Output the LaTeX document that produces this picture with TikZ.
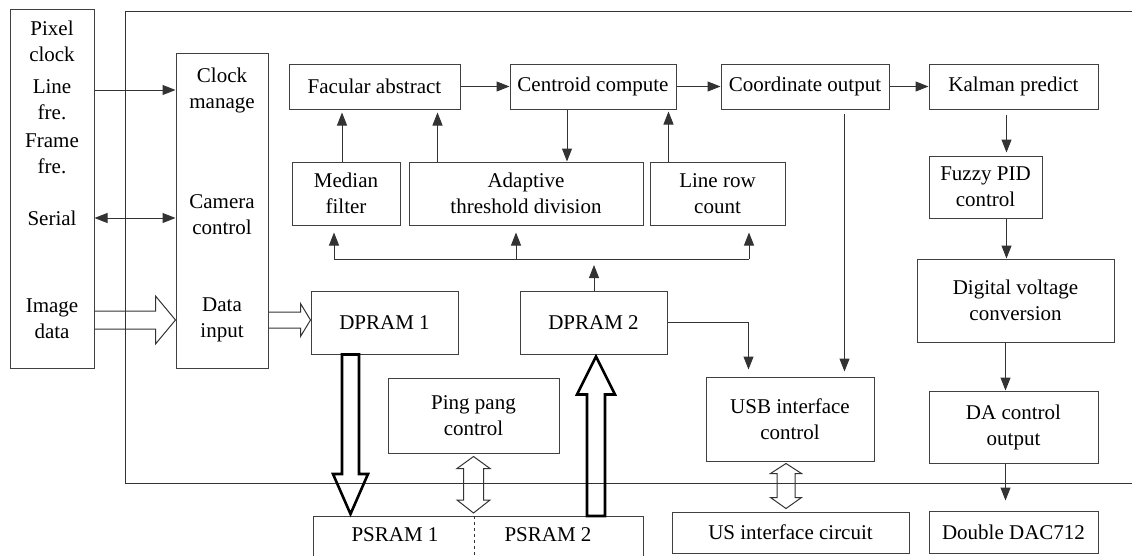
\documentclass[tikz,border=0pt]{standalone}
\usepackage{fontspec}
\setmainfont{Liberation Serif}
\usetikzlibrary{arrows.meta,calc}
\begin{document}
\begin{tikzpicture}[x=1pt,y=-1pt,
  ln/.style={draw=black!80, line width=1pt},
  box/.style={draw=black!75, line width=1pt, inner sep=0pt, align=center, font=\fontsize{21}{26}\selectfont},
  txt/.style={inner sep=0pt, align=center, font=\fontsize{21}{26}\selectfont},
  arr/.style={ln, -{Triangle[length=13pt,width=10pt]}},
  darr/.style={ln, {Triangle[length=13pt,width=10pt]}-{Triangle[length=13pt,width=10pt]}},
  hollow/.style={ln, line join=miter},
  thick arrow/.style={draw=black, line width=2.6pt, line join=miter},
]
\useasboundingbox (0,0) rectangle (1132,555);

% frame
\draw[ln] (1132,11) -- (125,11) -- (125,483) -- (1132,483);

% left source box
\node[box, minimum width=84pt, minimum height=359pt] (src) at (52,188.5) {};
\node[txt] (pc) at (52,41) {Pixel\\clock};
\node[txt] (lf) at (52,100) {Line\\fre.};
\node[txt] (ff) at (52,153.5) {Frame\\fre.};
\node[txt] (ser) at (52,218) {Serial};
\node[txt] (img) at (52,318.5) {Image\\data};

% clock / camera / data input box
\node[box, minimum width=92pt, minimum height=315pt] (ck) at (222,210.5) {};
\node[txt] (cm) at (222,90) {Clock\\manage};
\node[txt] (cc) at (222,215) {Camera\\control};
\node[txt] (di) at (222,320) {Data\\input};

% top row
\node[box, minimum width=171pt, minimum height=45pt] (fa) at (374.5,86.5) {Facular abstract};
\node[box, minimum width=166pt, minimum height=45pt] (ce) at (593,86.5) {Centroid compute};
\node[box, minimum width=168pt, minimum height=45pt] (co) at (805,86.5) {Coordinate output};
\node[box, minimum width=169pt, minimum height=45pt] (kp) at (1013.5,86.5) {Kalman predict};

% second row
\node[box, minimum width=108pt, minimum height=63pt] (mf) at (346,193.5) {Median\\filter};
\node[box, minimum width=234pt, minimum height=63pt] (at) at (526,193.5) {Adaptive\\threshold division};
\node[box, minimum width=135pt, minimum height=63pt] (lr) at (717.5,193.5) {Line row\\count};

% right column
\node[box, minimum width=113pt, minimum height=62pt] (fz) at (985.5,187) {Fuzzy PID\\control};
\node[box, minimum width=197pt, minimum height=83pt] (dv) at (1015.5,300.5) {Digital voltage\\conversion};
\node[box, minimum width=169pt, minimum height=72pt] (da) at (1013.5,427) {DA control\\output};

% memories
\node[box, minimum width=147pt, minimum height=63pt] (d1) at (384.5,322.5) {DPRAM 1};
\node[box, minimum width=147pt, minimum height=63pt] (d2) at (593.5,322.5) {DPRAM 2};
\node[box, minimum width=171pt, minimum height=75pt] (pp) at (473.5,415.5) {Ping pang\\control};
\node[box, minimum width=168pt, minimum height=84pt] (usb) at (790,419) {USB interface\\control};

% bottom boxes
\node[box, minimum width=330pt, minimum height=70pt, anchor=north west] (ps) at (313,516) {};
\node[txt] (ps1) at (395,535) {PSRAM 1};
\node[txt] (ps2) at (548,535) {PSRAM 2};
\draw[ln, dashed, line width=0.6pt] ([xshift=-4pt]ps.north) -- ([xshift=-4pt]ps.south);
\node[box, minimum width=237pt, minimum height=41pt] (us) at (790.5,532.5) {US interface circuit};
\node[box, minimum width=169pt, minimum height=42pt] (dd) at (1013.5,532) {Double DAC712};

% left arrows
\draw[arr] (src.east |- cm) -- (ck.west |- cm);
\draw[darr] (src.east |- ser) -- (ck.west |- ser);
\draw[hollow] let \p1=(src.east |- di), \p2=(ck.west |- di) in
  (\x1,\y1+9pt) -- (\x2-20pt,\y1+9pt) -- (\x2-20pt,\y1+24pt) -- (\x2,\y1)
  -- (\x2-20pt,\y1-24pt) -- (\x2-20pt,\y1-9pt) -- (\x1,\y1-9pt);
\draw[hollow] let \p1=(ck.east |- di), \p2=(d1.west |- di) in
  (\x1,\y1+8pt) -- (\x2-10pt,\y1+8pt) -- (\x2-10pt,\y1+16.5pt) -- (\x2,\y1)
  -- (\x2-10pt,\y1-16.5pt) -- (\x2-10pt,\y1-8pt) -- (\x1,\y1-8pt);

% top row arrows
\draw[arr] (fa.east) -- (ce.west);
\draw[arr] (ce.east) -- (co.west);
\draw[arr] (co.east) -- (kp.west);
\draw[arr, shorten >=3pt] ([xshift=-4pt]mf.north) -- ([xshift=-4pt]mf.north |- fa.south);
\draw[arr, shorten >=3pt] ([xshift=29pt]at.north west) -- ([xshift=29pt]at.north west |- fa.south);
\draw[arr] ([xshift=-26pt]ce.south) -- ([xshift=-26pt]ce.south |- at.north);
\draw[arr, shorten >=2pt] ([xshift=19pt]lr.north west) -- ([xshift=19pt]lr.north west |- ce.south);

% bus
\coordinate (busL) at (334,259);
\coordinate (busM) at (516,259);
\coordinate (busR) at (749,259);
\draw[ln] (busL) -- (busR);
\draw[arr, shorten >=7pt] (busL) -- (busL |- mf.south);
\draw[arr, shorten >=7pt] (busM) -- (busM |- at.south);
\draw[arr, shorten >=7pt] (busR) -- (busR |- lr.south);
\coordinate (d2up) at (594,265);
\draw[arr] (d2.north -| d2up) -- (d2up);

% to USB
\draw[arr, shorten >=7pt] (d2.east) -| ([xshift=43pt]usb.north west);
\draw[arr, shorten <=4pt, shorten >=5pt] ([xshift=124pt]co.south west) -- ([xshift=124pt]co.south west |- usb.north);

% right column arrows
\draw[arr, shorten <=5pt, shorten >=3pt] ([xshift=78pt]kp.south west) -- ([xshift=78pt]kp.south west |- fz.north);
\draw[arr] ([xshift=78pt]fz.south west) -- ([xshift=78pt]fz.south west |- dv.north);
\draw[arr] ([xshift=77pt]da.north west |- dv.south) -- ([xshift=77pt]da.north west);
\draw[arr, shorten >=10pt] ([xshift=77pt]da.south west) -- ([xshift=77pt]dd.north west);

% thick arrows
\draw[thick arrow] let \p1=([xshift=-34pt]d1.south), \p2=(\p1 |- ps.north) in
  (\x1-8.5pt,\y1) -- (\x1-8.5pt,\y2+42pt) -- (\x1-17.5pt,\y2+42pt) -- (\x1,\y2+2pt)
  -- (\x1+17.5pt,\y2+42pt) -- (\x1+8.5pt,\y2+42pt) -- (\x1+8.5pt,\y1) -- cycle;
\draw[thick arrow] let \p1=([xshift=2.5pt]d2.south), \p2=(\p1 |- ps.north) in
  (\x1-9pt,\y2) -- (\x1-9pt,\y1-40pt) -- (\x1-19pt,\y1-40pt) -- (\x1,\y1-2pt)
  -- (\x1+19pt,\y1-40pt) -- (\x1+9pt,\y1-40pt) -- (\x1+9pt,\y2) -- cycle;

% hollow double arrows
\draw[hollow] let \p1=(pp.south), \p2=(\p1 |- ps.north) in
  (\x1,\y1-3pt) -- (\x1+16.5pt,\y1-15pt) -- (\x1+10pt,\y1-15pt) -- (\x1+10pt,\y2+16pt)
  -- (\x1+16.5pt,\y2+16pt) -- (\x1,\y2+3pt) -- (\x1-16.5pt,\y2+16pt) -- (\x1-10pt,\y2+16pt)
  -- (\x1-10pt,\y1-15pt) -- (\x1-16.5pt,\y1-15pt) -- cycle;
\draw[hollow] let \p1=([xshift=-4pt]usb.south), \p2=(\p1 |- us.north) in
  (\x1,\y1-2pt) -- (\x1+15.5pt,\y1-12pt) -- (\x1+9pt,\y1-12pt) -- (\x1+9pt,\y2+14pt)
  -- (\x1+15.5pt,\y2+14pt) -- (\x1,\y2+3pt) -- (\x1-15.5pt,\y2+14pt) -- (\x1-9pt,\y2+14pt)
  -- (\x1-9pt,\y1-12pt) -- (\x1-15.5pt,\y1-12pt) -- cycle;
\end{tikzpicture}
\end{document}
